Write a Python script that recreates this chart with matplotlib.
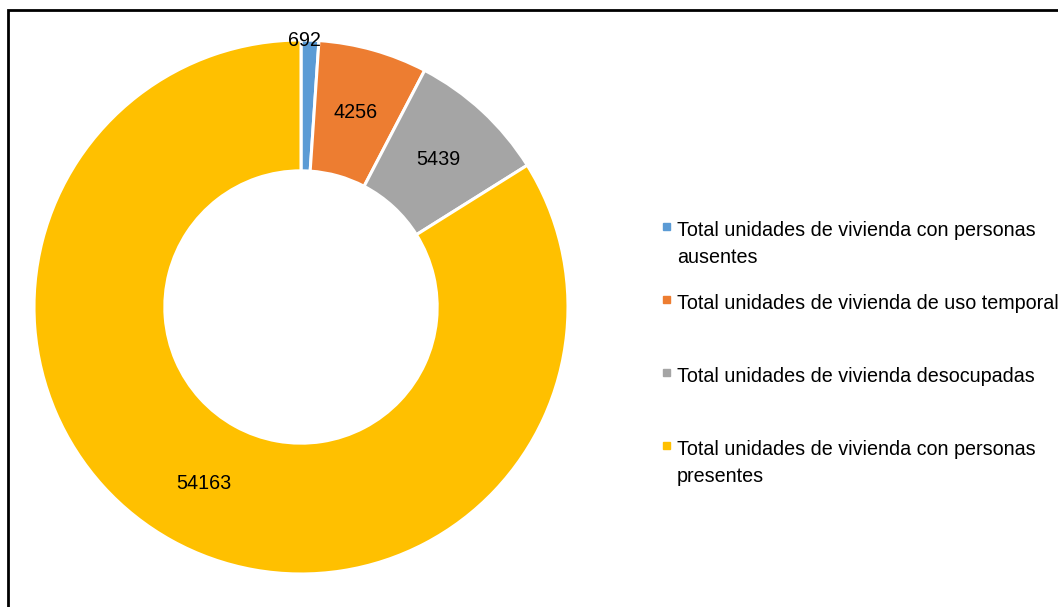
import numpy as np
import matplotlib.pyplot as plt
from matplotlib.patches import Rectangle

categories = [
    "Total unidades de vivienda con personas\nausentes",
    "Total unidades de vivienda de uso temporal",
    "Total unidades de vivienda desocupadas",
    "Total unidades de vivienda con personas\npresentes",
]
values = [692, 4256, 5439, 54163]
colors = ["#5B9BD5", "#ED7D31", "#A5A5A5", "#FFC000"]

FONT = ["Liberation Sans Narrow", "Liberation Sans", "DejaVu Sans"]
FS = 14.2
W, H = 1058, 607

fig = plt.figure(figsize=(W / 100, H / 100), dpi=100)

# donut centred at (301, 307) px, outer radius 267 px
cx, cy, r = 301, 307, 267
ax = fig.add_axes([(cx - r) / W, (H - cy - r) / H, 2 * r / W, 2 * r / H])
wedges, _ = ax.pie(values, colors=colors, startangle=90, counterclock=False,
                   radius=1.0,
                   wedgeprops=dict(width=0.49, edgecolor="white", linewidth=2.2))
ax.set_xlim(-1, 1)
ax.set_ylim(-1, 1)
ax.set_aspect("equal")
ax.axis("off")

# value labels in the middle of the ring (smallest one sits on the rim)
for w, v in zip(wedges, values):
    mid = np.deg2rad((w.theta1 + w.theta2) / 2)
    rad = 1.0 if v == min(values) else 0.755
    ax.text(rad * np.cos(mid) - (0.02 if v == min(values) else 0),
            rad * np.sin(mid), str(v), ha="center", va="center",
            fontsize=FS, family=FONT, color="black")

# legend on the right, one baseline per text line
for i, (lab, c) in enumerate(zip(categories, colors)):
    base = 236 + i * 73
    fig.patches.append(Rectangle((663 / W, (H - base + 6) / H), 7 / W, 7 / H,
                                 transform=fig.transFigure, color=c))
    for k, line in enumerate(lab.split("\n")):
        fig.text(677 / W, (H - base - k * 27) / H, line, ha="left",
                 va="baseline", fontsize=FS, family=FONT)

# chart frame
fig.patches.append(Rectangle((8 / W, -0.1), 1.2, (H - 10) / H + 0.1,
                             transform=fig.transFigure, fill=False,
                             edgecolor="black", linewidth=2))

fig.savefig("out.png", dpi=100)
